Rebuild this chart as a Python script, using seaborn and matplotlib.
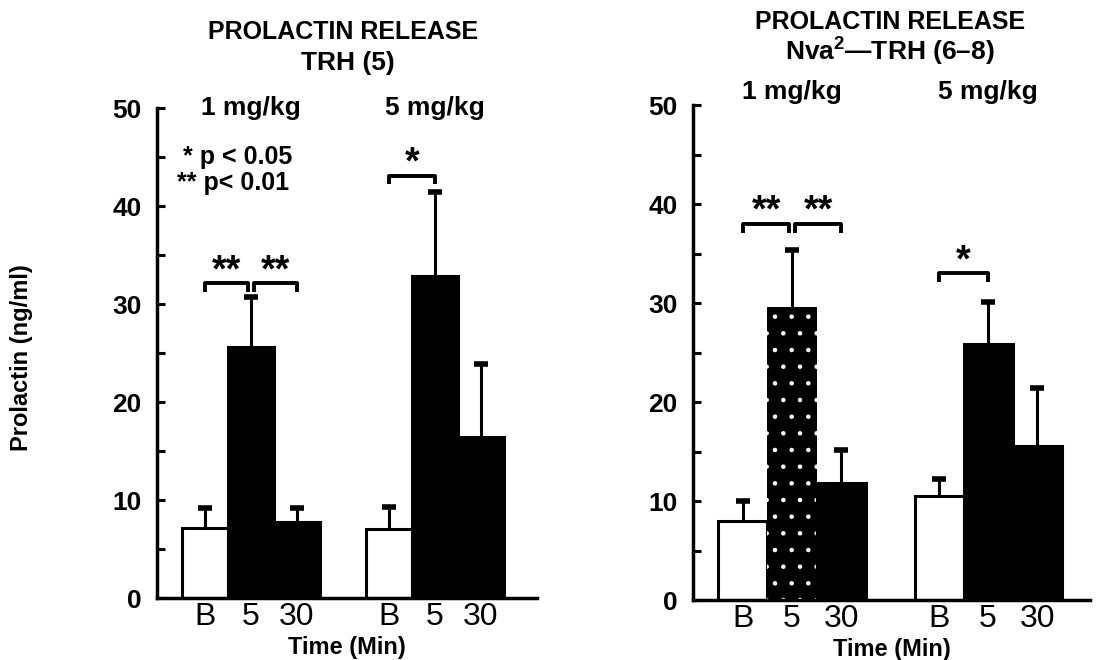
import pandas as pd
import matplotlib.pyplot as plt
import seaborn as sns
from matplotlib.ticker import MultipleLocator

# --- datos ---
times = ["B", "5", "30"]
doses = ["1 mg/kg", "5 mg/kg"]

trh_mean = [7.1, 25.6, 7.8, 7.0, 32.9, 16.4]
trh_sem = [2.1, 5.1, 1.4, 2.3, 8.5, 7.5]

nva_mean = [8.0, 29.6, 11.8, 10.5, 25.9, 15.6]
nva_sem = [2.0, 5.8, 3.4, 1.7, 4.2, 5.8]

# significancia: (barra i, barra j, nivel, etiqueta)
trh_sig = [(0, 1, 32.1, "**"), (1, 2, 32.1, "**"), (3, 4, 43.1, "*")]
nva_sig = [(0, 1, 38.0, "**"), (1, 2, 38.0, "**"), (3, 4, 33.0, "*")]

sns.set_style("ticks")
plt.rcParams["font.family"] = ["Liberation Sans", "DejaVu Sans"]
plt.rcParams["mathtext.fontset"] = "custom"
plt.rcParams["mathtext.rm"] = "Liberation Sans:bold"
plt.rcParams["mathtext.it"] = "Liberation Sans:italic"
plt.rcParams["mathtext.bf"] = "Liberation Sans:bold"
plt.rcParams["hatch.linewidth"] = 0.8
for key in ["text.color", "axes.labelcolor", "xtick.color", "ytick.color",
            "axes.edgecolor"]:
    plt.rcParams[key] = "black"


def build_frame(means, sems):
    keys, vals, errs = [], [], []
    for d, dose in enumerate(doses):
        for t, tm in enumerate(times):
            keys.append(f"{dose}|{tm}")
            vals.append(means[d * 3 + t])
            errs.append(sems[d * 3 + t])
    return pd.DataFrame({"key": keys, "value": vals, "sem": errs})


def draw_panel(ax, means, sems, sig, dotted, xlim, dose_y):
    df = build_frame(means, sems)
    order = list(df["key"][:3]) + ["gap"] + list(df["key"][3:])
    colors = {k: ("white" if k.endswith("|B") else "black") for k in df["key"]}

    sns.barplot(data=df, x="key", y="value", hue="key", order=order,
                palette=colors, width=1.0, edgecolor="black", linewidth=2.2,
                errorbar=None, legend=False, ax=ax)

    bars = sorted(ax.patches, key=lambda p: p.get_x())
    centers = [p.get_x() + p.get_width() / 2 for p in bars]

    if dotted is not None:
        bars[dotted].set_hatch(".")
        bars[dotted].set_edgecolor("white")
        bars[dotted].set_linewidth(0)

    # barras de error (solo hacia arriba)
    tops = df["value"] + df["sem"]
    ax.vlines(centers, df["value"], tops, color="black", lw=2.2, zorder=3)
    ax.hlines(tops, [c - 0.15 for c in centers], [c + 0.15 for c in centers],
              color="black", lw=4, zorder=3)

    # corchetes de significancia
    for i, j, lvl, lab in sig:
        shrink = 0.06 if lab == "**" else 0.0
        x1 = centers[i] + (shrink if i == 1 else 0)
        x2 = centers[j] - (shrink if j == 1 else 0)
        ax.plot([x1, x1, x2, x2], [lvl - 0.9, lvl, lvl, lvl - 0.9],
                color="black", lw=2.8, solid_capstyle="butt")
        ax.text((x1 + x2) / 2, lvl + 0.2, lab, ha="center", va="baseline",
                fontsize=27, fontweight="bold")

    # etiquetas de dosis
    for g, dose in enumerate(doses):
        ax.text(centers[g * 3 + 1], dose_y, dose, ha="center", va="center",
                fontsize=19, fontweight="bold",
                transform=ax.get_xaxis_transform())

    ax.set_xlim(*xlim)
    ax.set_ylim(0, 50)
    ax.set_xticks(centers)
    ax.set_xticklabels(times * 2)
    ax.tick_params(axis="x", length=0, labelsize=23, pad=3)
    ax.yaxis.set_major_locator(MultipleLocator(10))
    ax.yaxis.set_minor_locator(MultipleLocator(5))
    ax.tick_params(axis="y", which="both", direction="in", length=6,
                   width=2.2, labelsize=19, pad=11)
    for lab in ax.get_yticklabels():
        lab.set_fontweight("bold")
    sns.despine(ax=ax)
    ax.spines["left"].set_linewidth(2.5)
    ax.spines["bottom"].set_linewidth(2.5)
    ax.set_xlabel("Time (Min)", fontsize=17, fontweight="bold", labelpad=3)
    ax.set_ylabel("")
    return centers


fig = plt.figure(figsize=(10.97, 6.6), dpi=100)
ax1 = fig.add_axes([0.1431, 0.0939, 0.3464, 0.7424])
ax2 = fig.add_axes([0.6317, 0.0909, 0.362, 0.75])

c1 = draw_panel(ax1, trh_mean, trh_sem, trh_sig, None, (-1.04, 7.22), 1.0)
c2 = draw_panel(ax2, nva_mean, nva_sem, nva_sig, 1, (-1.02, 7.08), 1.026)

# leyenda de p
ax1.text(c1[0] - 0.48, 45, "* p < 0.05", ha="left", va="center",
         fontsize=18, fontweight="bold")
ax1.text(c1[0] - 0.6, 42.3, "** p< 0.01", ha="left", va="center",
         fontsize=18, fontweight="bold")

# titulos
fig.text(0.3127, 0.9515, "PROLACTIN RELEASE", ha="center", va="center",
         fontsize=18, fontweight="black")
fig.text(0.317, 0.904, "TRH (5)", ha="center", va="center", fontsize=19,
         fontweight="bold")
fig.text(0.811, 0.966, "PROLACTIN RELEASE", ha="center", va="center",
         fontsize=18, fontweight="black")
fig.text(0.811, 0.921, "Nva$^{2}$\u2014TRH (6\u20138)", ha="center",
         va="center", fontsize=19, fontweight="bold")

fig.text(0.02, 0.458, "Prolactin (ng/ml)", rotation=90, ha="center",
         va="center", fontsize=17, fontweight="bold")

fig.savefig("out.png", dpi=100)
plt.close(fig)
